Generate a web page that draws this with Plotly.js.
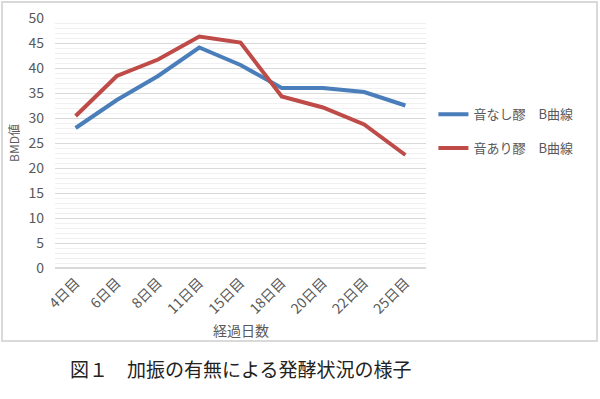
<!DOCTYPE html>
<html>
<head>
<meta charset="utf-8">
<script src="https://cdn.plot.ly/plotly-3.0.1.min.js"></script>
<style>html,body{margin:0;padding:0;background:#fff;}#chart{width:600px;height:399px;}</style>
</head>
<body>
<div id="chart"></div>
<script>
var categories = ["4日目", "6日目", "8日目", "11日目", "15日目", "18日目", "20日目", "22日目", "25日目"];
var seriesNames = ["音なし醪　B曲線", "音あり醪　B曲線"];
var valuesNoSound = [28.0, 33.6, 38.4, 44.1, 40.6, 36.0, 36.0, 35.2, 32.5];
var valuesWithSound = [30.4, 38.4, 41.7, 46.3, 45.1, 34.3, 32.1, 28.7, 22.6];
var yTicks = [0, 5, 10, 15, 20, 25, 30, 35, 40, 45, 50];
var caption = "図１　加振の有無による発酵状況の様子";
var xTitle = "経過日数";
var yTitle = "BMD値";

var FONT = '"Noto Sans CJK JP", "Noto Sans", sans-serif';
var traces = [
  {x: categories, y: valuesNoSound, name: seriesNames[0], legendgroup: 'a', type: 'scatter', mode: 'lines',
   line: {color: '#4a7ebb', width: 4}},
  {x: categories, y: valuesWithSound, name: seriesNames[1], legendgroup: 'b', type: 'scatter', mode: 'lines',
   line: {color: '#be4b48', width: 4}}
];
var layout = {
  width: 600, height: 399,
  margin: {l: 55, r: 174, t: 18, b: 131},
  paper_bgcolor: '#ffffff', plot_bgcolor: '#ffffff',
  font: {family: FONT, color: '#595959', size: 13},
  showlegend: true,
  legend: {x: 1.02, y: 0.675, xanchor: 'left', yanchor: 'top', traceorder: 'grouped', tracegroupgap: 14,
           font: {size: 13, color: '#595959'}, bgcolor: 'rgba(0,0,0,0)'},
  xaxis: {type: 'category', range: [-0.5, 8.5], tickangle: -45, showgrid: false,
          showline: false, zeroline: false, ticks: '', ticklabelstandoff: 3,
          tickfont: {size: 14, color: '#595959'}, fixedrange: true},
  yaxis: {range: [0, 50], tickvals: yTicks, showgrid: true, gridcolor: '#d9d9d9', gridwidth: 1,
          zeroline: true, zerolinecolor: '#d9d9d9', zerolinewidth: 1.5, showline: false, ticks: '',
          ticklabelstandoff: 10,
          tickfont: {size: 14, color: '#595959'},
          minor: {dtick: 1, showgrid: true, gridcolor: '#f0f0f0', gridwidth: 1},
          title: {text: yTitle, font: {size: 12, color: '#595959'}, standoff: 6},
          fixedrange: true},
  shapes: [{type: 'rect', xref: 'paper', yref: 'paper', x0: -0.1429, x1: 1.4609, y0: -0.292, y1: 1.064,
            line: {color: '#d9d9d9', width: 2}, fillcolor: 'rgba(0,0,0,0)', layer: 'below'}],
  annotations: [
    {text: xTitle, xref: 'paper', yref: 'paper', x: 0.502, y: -0.248, xanchor: 'center', yanchor: 'middle',
     showarrow: false, font: {size: 14, color: '#595959'}},
    {text: caption, xref: 'paper', yref: 'paper', x: 0.501, y: -0.4, xanchor: 'center', yanchor: 'middle',
     showarrow: false, font: {size: 19, color: '#222222'}}
  ]
};
Plotly.newPlot('chart', traces, layout, {displayModeBar: false, staticPlot: true});
</script>
</body>
</html>
